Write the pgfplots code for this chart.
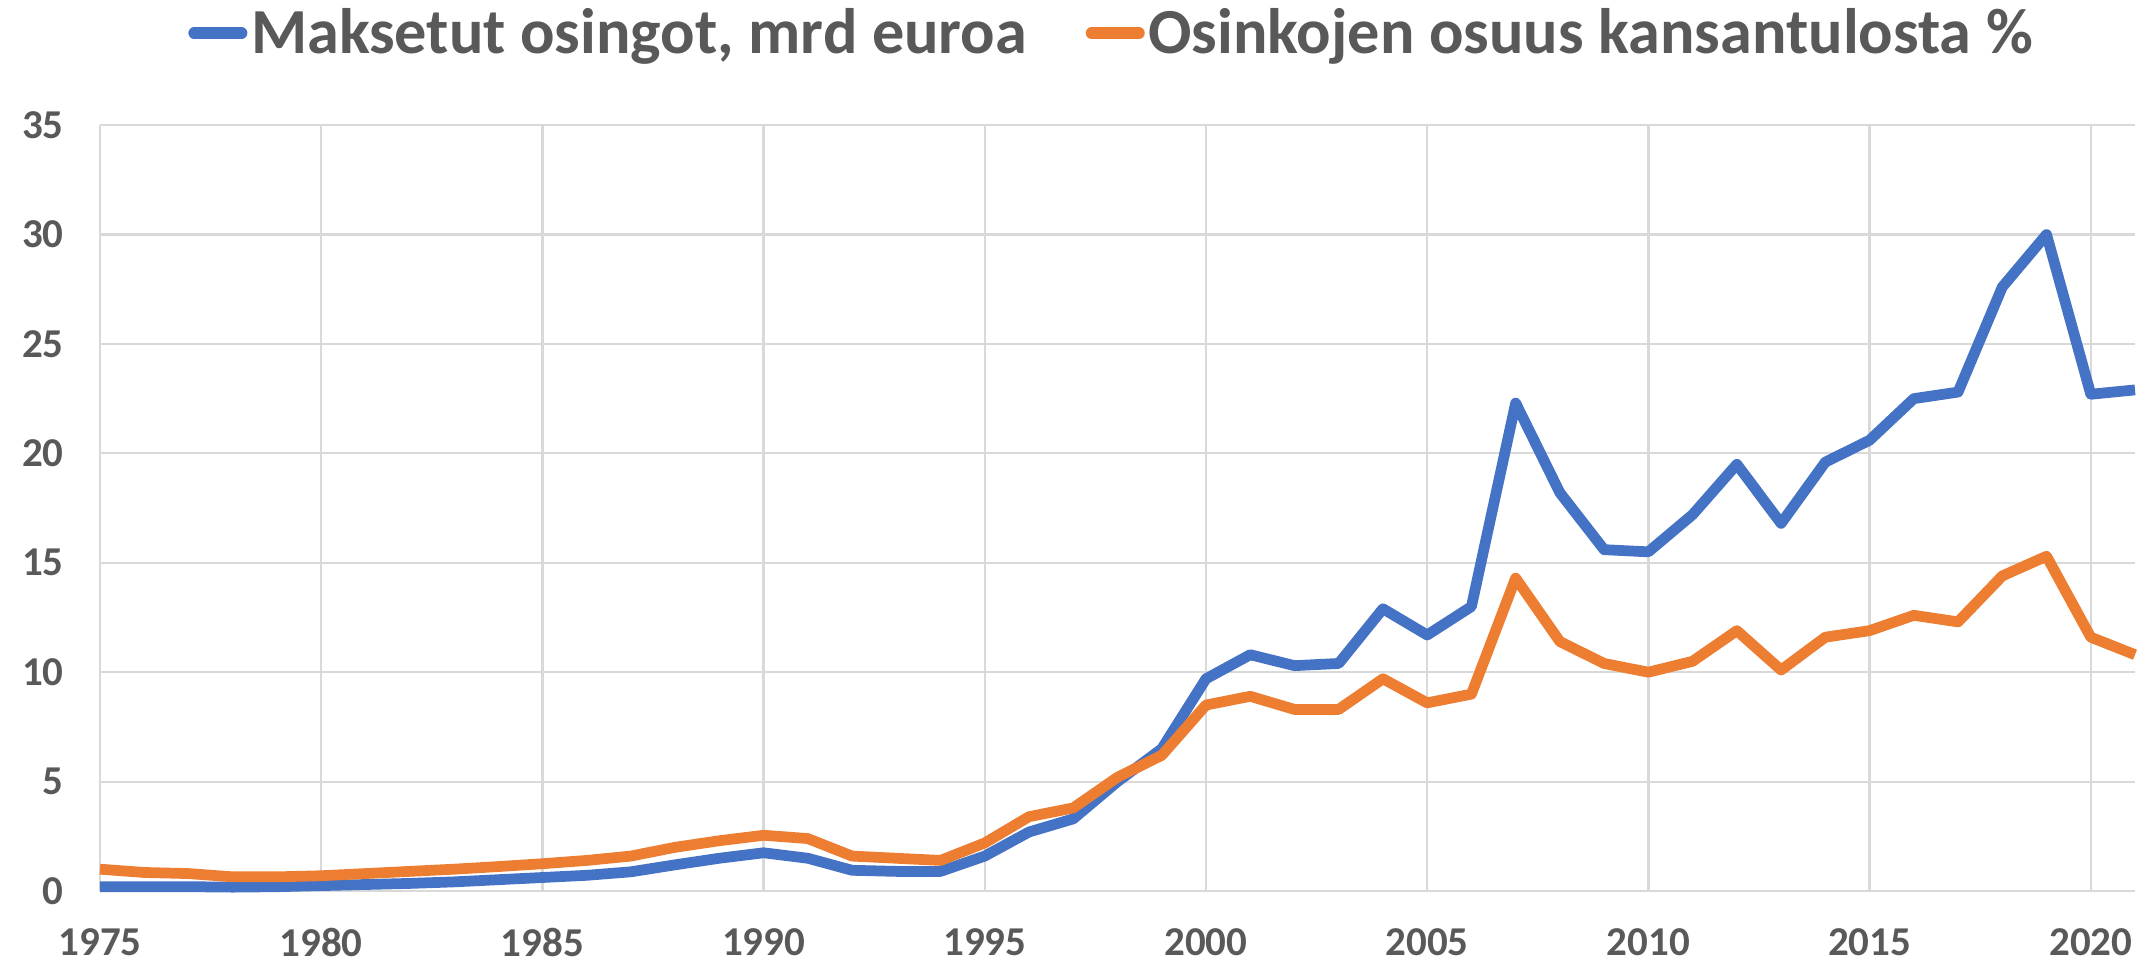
\documentclass[border=0pt]{standalone}
\usepackage{pgfplots}
\pgfplotsset{compat=1.18}
\usepackage{fontspec}
\setmainfont{Carlito}
\definecolor{cblue}{HTML}{4472C4}
\definecolor{corange}{HTML}{ED7D31}
\definecolor{ctext}{HTML}{595959}
\definecolor{cgrid}{HTML}{D9D9D9}
\begin{document}
\begin{tikzpicture}
\begin{axis}[
  name=ax,
  scale only axis,
  width=814pt, height=306.4pt,
  xmin=1975, xmax=2021, ymin=0, ymax=35,
  xtick={1975,1980,...,2020},
  ytick={0,5,...,35},
  grid=major,
  major grid style={draw=cgrid, line width=0.9pt},
  axis line style={draw=none},
  major tick length=0pt,
  /pgf/number format/assume math mode=true,
  /pgf/number format/1000 sep={},
  ticklabel style={font=\fontsize{16.4}{19}\selectfont\bfseries, text=ctext},
  xticklabel shift=11.4pt,
  yticklabel shift=11pt,
  legend columns=2,
  legend style={
    draw=none, fill=none,
    at={(0.4975,1.12)}, anchor=center,
    font=\fontsize{25.7}{30}\selectfont\bfseries, text=ctext,
    /tikz/every even column/.append style={column sep=22pt},
    nodes={inner sep=1.5pt},
  },
  legend image code/.code={\draw[#1, line width=4.6pt, line cap=round] (0pt,0pt) -- (19pt,0pt);},
  clip=false,
]
\addplot[cblue, line width=4.3pt, line join=round] coordinates {
(1975,0.2) (1976,0.2) (1977,0.2) (1978,0.18) (1979,0.2) (1980,0.25)
(1981,0.3) (1982,0.35) (1983,0.42) (1984,0.52) (1985,0.62) (1986,0.72)
(1987,0.88) (1988,1.2) (1989,1.5) (1990,1.75) (1991,1.5) (1992,0.95)
(1993,0.9) (1994,0.9) (1995,1.6) (1996,2.7) (1997,3.3) (1998,5.0)
(1999,6.5) (2000,9.7) (2001,10.8) (2002,10.3) (2003,10.4) (2004,12.9)
(2005,11.7) (2006,13.0) (2007,22.3) (2008,18.2) (2009,15.6) (2010,15.5)
(2011,17.2) (2012,19.5) (2013,16.8) (2014,19.6) (2015,20.6) (2016,22.5)
(2017,22.8) (2018,27.6) (2019,30.0) (2020,22.7) (2021,22.9)
};
\addlegendentry{Maksetut osingot, mrd euroa}
\addplot[corange, line width=4.3pt, line join=round] coordinates {
(1975,1.0) (1976,0.85) (1977,0.8) (1978,0.65) (1979,0.65) (1980,0.7)
(1981,0.8) (1982,0.9) (1983,1.0) (1984,1.12) (1985,1.25) (1986,1.4)
(1987,1.6) (1988,2.0) (1989,2.3) (1990,2.55) (1991,2.4) (1992,1.6)
(1993,1.5) (1994,1.4) (1995,2.2) (1996,3.4) (1997,3.8) (1998,5.2)
(1999,6.2) (2000,8.5) (2001,8.9) (2002,8.3) (2003,8.3) (2004,9.7)
(2005,8.6) (2006,9.0) (2007,14.3) (2008,11.4) (2009,10.4) (2010,10.0)
(2011,10.5) (2012,11.9) (2013,10.1) (2014,11.6) (2015,11.9) (2016,12.6)
(2017,12.3) (2018,14.4) (2019,15.3) (2020,11.6) (2021,10.8)
};
\addlegendentry{Osinkojen osuus kansantulosta \%}
\end{axis}
\path ([shift={(-40pt,-29.2pt)}]ax.south west) rectangle ([shift={(8.4pt,50pt)}]ax.north east);
\end{tikzpicture}
\end{document}
